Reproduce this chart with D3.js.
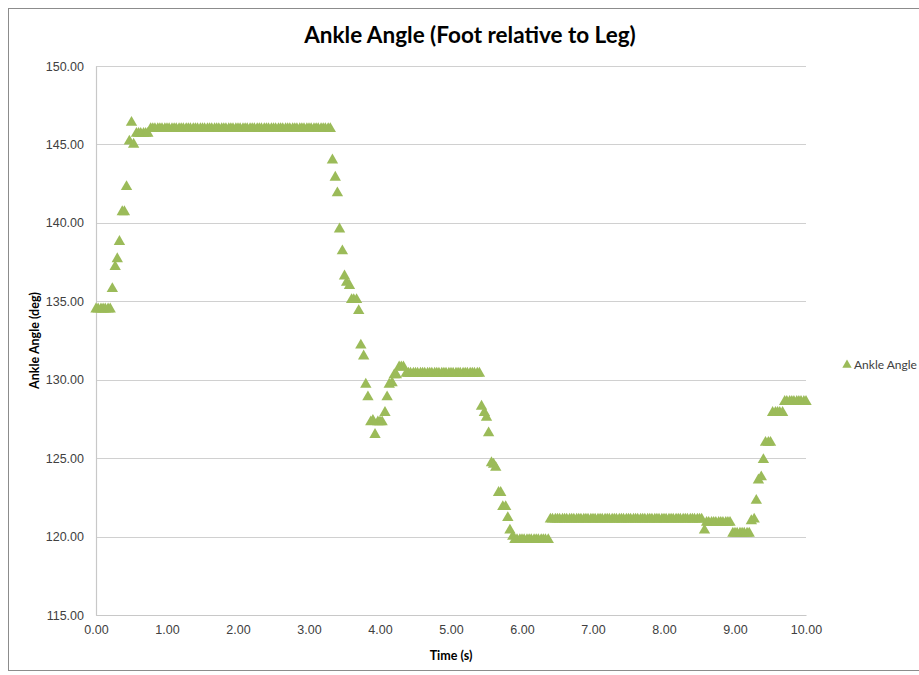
<!DOCTYPE html>
<html>
<head>
<meta charset="utf-8">
<script src="https://cdn.jsdelivr.net/npm/d3@7"></script>
<style>
  body { margin: 0; background: #fff; }
  svg { display: block; font-family: Lato, "Open Sans", sans-serif; }
</style>
</head>
<body>
<div id="chart"></div>
<script>
"use strict";

// sample times (s), one row per second, 30 frames per second
var timeS = [
  0.00,0.03,0.07,0.10,0.13,0.17,0.20,0.23,0.27,0.30,0.33,0.37,0.40,0.43,0.47,0.50,0.53,0.57,0.60,0.63,0.67,0.70,0.73,0.77,0.80,0.83,0.87,0.90,0.93,0.97,
  1.00,1.03,1.07,1.10,1.13,1.17,1.20,1.23,1.27,1.30,1.33,1.37,1.40,1.43,1.47,1.50,1.53,1.57,1.60,1.63,1.67,1.70,1.73,1.77,1.80,1.83,1.87,1.90,1.93,1.97,
  2.00,2.03,2.07,2.10,2.13,2.17,2.20,2.23,2.27,2.30,2.33,2.37,2.40,2.43,2.47,2.50,2.53,2.57,2.60,2.63,2.67,2.70,2.73,2.77,2.80,2.83,2.87,2.90,2.93,2.97,
  3.00,3.03,3.07,3.10,3.13,3.17,3.20,3.23,3.27,3.30,3.33,3.37,3.40,3.43,3.47,3.50,3.53,3.57,3.60,3.63,3.67,3.70,3.73,3.77,3.80,3.83,3.87,3.90,3.93,3.97,
  4.00,4.03,4.07,4.10,4.13,4.17,4.20,4.23,4.27,4.30,4.33,4.37,4.40,4.43,4.47,4.50,4.53,4.57,4.60,4.63,4.67,4.70,4.73,4.77,4.80,4.83,4.87,4.90,4.93,4.97,
  5.00,5.03,5.07,5.10,5.13,5.17,5.20,5.23,5.27,5.30,5.33,5.37,5.40,5.43,5.47,5.50,5.53,5.57,5.60,5.63,5.67,5.70,5.73,5.77,5.80,5.83,5.87,5.90,5.93,5.97,
  6.00,6.03,6.07,6.10,6.13,6.17,6.20,6.23,6.27,6.30,6.33,6.37,6.40,6.43,6.47,6.50,6.53,6.57,6.60,6.63,6.67,6.70,6.73,6.77,6.80,6.83,6.87,6.90,6.93,6.97,
  7.00,7.03,7.07,7.10,7.13,7.17,7.20,7.23,7.27,7.30,7.33,7.37,7.40,7.43,7.47,7.50,7.53,7.57,7.60,7.63,7.67,7.70,7.73,7.77,7.80,7.83,7.87,7.90,7.93,7.97,
  8.00,8.03,8.07,8.10,8.13,8.17,8.20,8.23,8.27,8.30,8.33,8.37,8.40,8.43,8.47,8.50,8.53,8.57,8.60,8.63,8.67,8.70,8.73,8.77,8.80,8.83,8.87,8.90,8.93,8.97,
  9.00,9.03,9.07,9.10,9.13,9.17,9.20,9.23,9.27,9.30,9.33,9.37,9.40,9.43,9.47,9.50,9.53,9.57,9.60,9.63,9.67,9.70,9.73,9.77,9.80,9.83,9.87,9.90,9.93,9.97,
  10.00
];

// ankle angle (deg), same layout as timeS
var angleDeg = [
  134.5,134.5,134.5,134.5,134.5,134.5,134.5,135.8,137.2,137.7,138.8,140.7,140.7,142.3,145.2,146.4,145.0,145.7,145.7,145.7,145.7,145.7,145.7,146.0,146.0,146.0,146.0,146.0,146.0,146.0,
  146.0,146.0,146.0,146.0,146.0,146.0,146.0,146.0,146.0,146.0,146.0,146.0,146.0,146.0,146.0,146.0,146.0,146.0,146.0,146.0,146.0,146.0,146.0,146.0,146.0,146.0,146.0,146.0,146.0,146.0,
  146.0,146.0,146.0,146.0,146.0,146.0,146.0,146.0,146.0,146.0,146.0,146.0,146.0,146.0,146.0,146.0,146.0,146.0,146.0,146.0,146.0,146.0,146.0,146.0,146.0,146.0,146.0,146.0,146.0,146.0,
  146.0,146.0,146.0,146.0,146.0,146.0,146.0,146.0,146.0,146.0,144.0,142.9,141.9,139.6,138.2,136.6,136.2,136.0,135.1,135.1,135.1,134.4,132.2,131.5,129.7,128.9,127.3,127.4,126.5,127.3,
  127.3,127.3,127.9,128.9,129.7,129.8,130.3,130.3,130.8,130.8,130.8,130.4,130.4,130.4,130.4,130.4,130.4,130.4,130.4,130.4,130.4,130.4,130.4,130.4,130.4,130.4,130.4,130.4,130.4,130.4,
  130.4,130.4,130.4,130.4,130.4,130.4,130.4,130.4,130.4,130.4,130.4,130.4,130.4,128.3,127.9,127.6,126.6,124.7,124.6,124.4,122.8,122.8,121.9,121.9,121.2,120.4,120.0,119.8,119.8,119.8,
  119.8,119.8,119.8,119.8,119.8,119.8,119.8,119.8,119.8,119.8,119.8,119.8,121.1,121.1,121.1,121.1,121.1,121.1,121.1,121.1,121.1,121.1,121.1,121.1,121.1,121.1,121.1,121.1,121.1,121.1,
  121.1,121.1,121.1,121.1,121.1,121.1,121.1,121.1,121.1,121.1,121.1,121.1,121.1,121.1,121.1,121.1,121.1,121.1,121.1,121.1,121.1,121.1,121.1,121.1,121.1,121.1,121.1,121.1,121.1,121.1,
  121.1,121.1,121.1,121.1,121.1,121.1,121.1,121.1,121.1,121.1,121.1,121.1,121.1,121.1,121.1,121.1,121.1,120.4,120.9,120.9,120.9,120.9,120.9,120.9,120.9,120.9,120.9,120.9,120.9,120.2,
  120.2,120.2,120.2,120.2,120.2,120.2,120.2,121.0,121.1,122.3,123.6,123.8,124.9,126.0,126.0,126.0,127.9,127.9,127.9,127.9,127.9,128.6,128.6,128.6,128.6,128.6,128.6,128.6,128.6,128.6,
  128.6
];

var xTicks = [0, 1, 2, 3, 4, 5, 6, 7, 8, 9, 10];
var yTicks = [115, 120, 125, 130, 135, 140, 145, 150];

var seriesName = "Ankle Angle";
var chartTitle = "Ankle Angle (Foot relative to Leg)";
var xTitle = "Time (s)";
var yTitle = "Ankle Angle (deg)";

var W = 919, H = 675;
var margin = { top: 66, right: 113, bottom: 60, left: 96 },
    width = W - margin.left - margin.right,
    height = H - margin.top - margin.bottom;

var GREEN = "#9bbb59";

var svg = d3.select("#chart")
            .append("svg")
            .attr("width", W)
            .attr("height", H);

// chart area frame
svg.append("rect")
   .attr("x", 8.5)
   .attr("y", 8.5)
   .attr("width", W + 10)
   .attr("height", H - 13)
   .attr("fill", "#fff")
   .attr("stroke", "#8c8c8c")
   .attr("stroke-width", 1);

var g = svg.append("g")
           .attr("transform", "translate(" + margin.left + "," + margin.top + ")");

var x = d3.scaleLinear().domain([0, 10]).range([0, width]);
var y = d3.scaleLinear().domain([115, 150]).range([height, 0]);

// horizontal gridlines
g.selectAll(".grid")
 .data(yTicks)
 .enter()
 .append("line")
 .attr("x1", 0)
 .attr("x2", width)
 .attr("y1", function (d) { return Math.round(y(d)) + 0.5; })
 .attr("y2", function (d) { return Math.round(y(d)) + 0.5; })
 .attr("stroke", "#d0d0d0")
 .attr("stroke-width", 1);

var fmt = d3.format(".2f");

var yAxis = d3.axisLeft(y).tickValues(yTicks).tickFormat(fmt).tickSize(0).tickPadding(12);
var xAxis = d3.axisBottom(x).tickValues(xTicks).tickFormat(fmt).tickSize(0).tickPadding(10);

var ya = g.append("g").attr("class", "axis").call(yAxis);
var xa = g.append("g").attr("class", "axis")
          .attr("transform", "translate(0," + height + ")")
          .call(xAxis);

[ya, xa].forEach(function (a) {
  a.select(".domain").attr("stroke", "#c8c8c8").attr("stroke-width", 1.2);
  a.selectAll("text")
   .attr("fill", "#404040")
   .style("font-size", "12.5px");
});

// markers
var tri = d3.symbol().type(d3.symbolTriangle).size(56);

g.selectAll(".pt")
 .data(angleDeg)
 .enter()
 .append("path")
 .attr("class", "pt")
 .attr("d", tri)
 .attr("transform", function (d, i) {
   return "translate(" + x(timeS[i]) + "," + y(d) + ")";
 })
 .attr("fill", GREEN);

// titles
svg.append("text")
   .attr("x", 470)
   .attr("y", 43)
   .attr("text-anchor", "middle")
   .style("font-size", "22.5px")
   .style("font-weight", "bold")
   .attr("fill", "#000")
   .text(chartTitle);

svg.append("text")
   .attr("x", margin.left + width / 2)
   .attr("y", 660)
   .attr("text-anchor", "middle")
   .style("font-size", "12.5px")
   .style("font-weight", "bold")
   .attr("fill", "#000")
   .text(xTitle);

svg.append("text")
   .attr("transform", "translate(39," + (margin.top + height / 2) + ") rotate(-90)")
   .attr("text-anchor", "middle")
   .style("font-size", "12.5px")
   .style("font-weight", "bold")
   .attr("fill", "#000")
   .text(yTitle);

// legend
var leg = svg.append("g").attr("transform", "translate(847,365)");
leg.append("path")
   .attr("d", d3.symbol().type(d3.symbolTriangle).size(38))
   .attr("fill", GREEN);
leg.append("text")
   .attr("x", 7)
   .attr("y", 4)
   .style("font-size", "12px")
   .attr("fill", "#404040")
   .text(seriesName);
</script>
</body>
</html>
